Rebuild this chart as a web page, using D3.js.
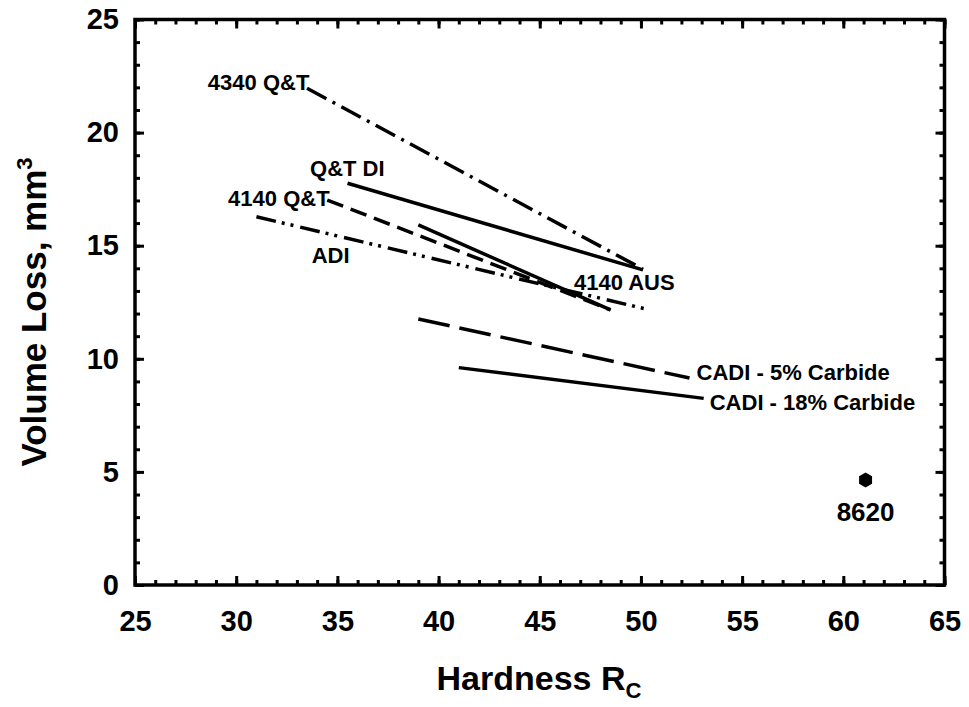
<!DOCTYPE html>
<html>
<head>
<meta charset="utf-8">
<script src="https://d3js.org/d3.v7.min.js"></script>
<style>
  body { margin: 0; background: #fff; }
  text { font-family: "Liberation Sans", Arial, sans-serif; font-weight: bold; fill: #000; }
</style>
</head>
<body>
<script>
// each grade is a straight trend line (hardness, volume loss) start -> end
var grades    = ["4340 Q&T", "Q&T DI", "4140 Q&T", "4140 AUS", "ADI", "CADI - 5% Carbide", "CADI - 18% Carbide"];
var hardStart = [33.5, 35.5, 34.5, 39.0, 31.0, 39.0, 41.0];
var lossStart = [21.96, 17.76, 17.02, 15.92, 16.28, 11.76, 9.61];
var hardEnd   = [50.1, 50.1, 48.5, 48.5, 50.3, 52.4, 53.1];
var lossEnd   = [13.96, 13.93, 12.16, 12.16, 12.19, 9.15, 8.25];

// single measured point
var pointName = ["8620"];
var pointHard = [61.1];
var pointLoss = [4.64];

// where each grade name is written (data units, text start / baseline)
var labelHard = [28.6, 33.65, 29.6, 46.69, 33.73, 52.75, 53.4];
var labelLoss = [21.88, 18.08, 16.76, 13.04, 14.24, 9.06, 7.74];

var xTicks = [25, 30, 35, 40, 45, 50, 55, 60, 65];
var yTicks = [0, 5, 10, 15, 20, 25];

var dashStyle = {
  "4340 Q&T": "22,7,3,7",
  "Q&T DI": null,
  "4140 Q&T": "17,8",
  "4140 AUS": null,
  "ADI": "20,6,3,6,3,7",
  "CADI - 5% Carbide": "32,10",
  "CADI - 18% Carbide": null
};

var margin = {top: 19.5, right: 24.5, bottom: 122, left: 135},
    width = 969 - margin.left - margin.right,
    height = 707 - margin.top - margin.bottom;

var svg = d3.select("body").append("svg")
    .attr("width", 969)
    .attr("height", 707);

var g = svg.append("g")
    .attr("transform", "translate(" + margin.left + "," + margin.top + ")");

var x = d3.scaleLinear().domain([25, 65]).range([0, width]);
var y = d3.scaleLinear().domain([0, 25]).range([height, 0]);

var minorX = d3.range(25, 66, 1);
var minorY = d3.range(0, 26, 1);

function styleAxis(sel) {
  sel.select(".domain").remove();
  sel.selectAll("line").attr("stroke", "#000").attr("stroke-width", 3);
  sel.selectAll("text").attr("font-size", 29).attr("fill", "#000")
    .attr("font-family", "Liberation Sans, Arial, sans-serif").attr("font-weight", "bold");
}

// minor ticks on all four sides
g.append("g").attr("transform", "translate(0," + height + ")")
  .call(d3.axisBottom(x).tickValues(minorX).tickSize(-5).tickFormat("")).call(styleAxis);
g.append("g")
  .call(d3.axisTop(x).tickValues(minorX).tickSize(-5).tickFormat("")).call(styleAxis);
g.append("g")
  .call(d3.axisLeft(y).tickValues(minorY).tickSize(-5).tickFormat("")).call(styleAxis);
g.append("g").attr("transform", "translate(" + width + ",0)")
  .call(d3.axisRight(y).tickValues(minorY).tickSize(-5).tickFormat("")).call(styleAxis);

// major ticks + labels
g.append("g").attr("transform", "translate(0," + height + ")")
  .call(d3.axisBottom(x).tickValues(xTicks).tickSize(-9).tickPadding(25)).call(styleAxis);
g.append("g")
  .call(d3.axisTop(x).tickValues(xTicks).tickSize(-9).tickFormat("")).call(styleAxis);
g.append("g")
  .call(d3.axisLeft(y).tickValues(yTicks).tickSize(-9).tickPadding(16)).call(styleAxis);
g.append("g").attr("transform", "translate(" + width + ",0)")
  .call(d3.axisRight(y).tickValues(yTicks).tickSize(-9).tickFormat("")).call(styleAxis);

// frame
g.append("rect")
  .attr("width", width).attr("height", height)
  .attr("fill", "none").attr("stroke", "#000").attr("stroke-width", 3.5);

// trend lines
var lines = grades.map(function(name, i) {
  return {name: name, pts: [[hardStart[i], lossStart[i]], [hardEnd[i], lossEnd[i]]]};
});
var line = d3.line().x(function(d) { return x(d[0]); }).y(function(d) { return y(d[1]); });

g.selectAll(".trend")
  .data(lines)
  .enter()
  .append("path")
    .attr("class", "trend")
    .attr("d", function(d) { return line(d.pts); })
    .attr("fill", "none")
    .attr("stroke", "#000")
    .attr("stroke-width", 3.5)
    .attr("stroke-dasharray", function(d) { return dashStyle[d.name]; });

// grade names
g.selectAll(".lbl")
  .data(grades)
  .enter()
  .append("text")
    .attr("class", "lbl")
    .attr("x", function(d, i) { return x(labelHard[i]); })
    .attr("y", function(d, i) { return y(labelLoss[i]); })
    .attr("font-size", 22)
    .text(function(d) { return d; });

// 8620 point: hexagon
var hexR = 7.5;
pointName.forEach(function(name, i) {
  var cx = x(pointHard[i]), cy = y(pointLoss[i]);
  var verts = d3.range(6).map(function(k) {
    var a = (-90 + 60 * k) * Math.PI / 180;
    return [cx + hexR * Math.cos(a), cy + hexR * Math.sin(a)];
  });
  g.append("path")
    .attr("d", "M" + verts.join("L") + "Z")
    .attr("fill", "#000");
  g.append("text")
    .attr("x", cx)
    .attr("y", cy + 41)
    .attr("text-anchor", "middle")
    .attr("font-size", 26)
    .text(name);
});

// axis titles
var xt = svg.append("text")
  .attr("x", 539).attr("y", 690)
  .attr("text-anchor", "middle")
  .attr("font-size", 34)
  .text("Hardness R");
xt.append("tspan").attr("font-size", 22).attr("dy", 8).text("C");

var yt = svg.append("text")
  .attr("transform", "translate(46,312) rotate(-90)")
  .attr("text-anchor", "middle")
  .attr("font-size", 35)
  .text("Volume Loss, mm");
yt.append("tspan").attr("font-size", 22).attr("dy", -14).text("3");
</script>
</body>
</html>
